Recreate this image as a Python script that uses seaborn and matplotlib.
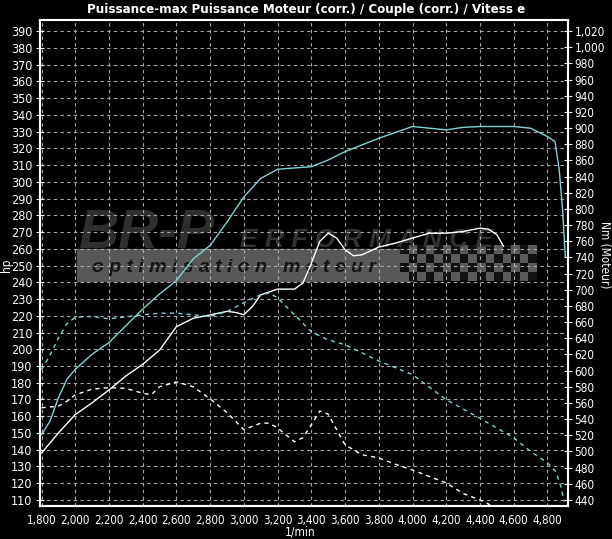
import numpy as np
import matplotlib
matplotlib.use("Agg")
import matplotlib.pyplot as plt
import matplotlib.ticker as mticker
from matplotlib import font_manager
from matplotlib.patches import Rectangle
import seaborn as sns

# tuned power (hp)
pow_tuned_rpm = [1800, 1850, 1900, 1950, 2000, 2100, 2200, 2300, 2400, 2500, 2600, 2700, 2800,
                 2900, 3000, 3100, 3200, 3400, 3500, 3600, 3800, 4000, 4100, 4200, 4300, 4400,
                 4600, 4700, 4800, 4845, 4870, 4890, 4906]
pow_tuned_hp = [149, 157, 171, 182, 188, 197, 204, 214, 224, 233, 241, 254, 262,
                276, 291, 302, 307.5, 309, 313, 318, 326, 333, 332, 331, 332.5, 333,
                333, 332, 327, 324, 307, 283, 255]

# tuned torque (Nm)
trq_tuned_rpm = [1800, 1850, 1900, 1950, 2000, 2100, 2200, 2400, 2500, 2600, 2800, 2900, 3000,
                 3100, 3150, 3200, 3300, 3400, 3500, 3600, 3800, 4000, 4200, 4400, 4600, 4700,
                 4800, 4850, 4880, 4900]
trq_tuned_nm = [601, 619, 640, 658, 666, 667, 664, 669, 671, 671, 667, 673, 684,
                694, 696, 690, 669, 648, 638, 632, 612, 595, 564, 541, 517, 500,
                486, 475, 456, 438]

# stock power (hp)
pow_stock_rpm = [1800, 1900, 2000, 2100, 2200, 2300, 2400, 2500, 2600, 2700, 2800, 2900, 2950,
                 3000, 3050, 3100, 3200, 3300, 3350, 3400, 3450, 3500, 3550, 3600, 3650, 3700,
                 3800, 3900, 4000, 4100, 4200, 4300, 4400, 4450, 4500, 4540]
pow_stock_hp = [138, 150, 161, 168, 175.7, 184, 191, 199.5, 213.5, 218.5, 220.5, 222.6, 222,
                220.6, 225.5, 232.5, 235.9, 235.9, 239.5, 251.4, 264.4, 269.3, 266.4, 259.4, 255.8, 256.4,
                261, 263.4, 266.4, 269.3, 269.3, 270.3, 272.3, 271.7, 268.4, 261.4]

# stock torque (Nm)
trq_stock_rpm = [1800, 1900, 1950, 2000, 2100, 2200, 2300, 2400, 2450, 2500, 2600, 2700, 2800,
                 2900, 3000, 3100, 3150, 3200, 3300, 3350, 3400, 3450, 3500, 3550, 3600, 3700,
                 3800, 3900, 4000, 4200, 4300, 4400, 4460]
trq_stock_nm = [554, 556, 562, 570, 577, 579, 578, 572, 570, 580, 586, 580, 565,
                548, 527, 535, 535, 529, 512, 517, 533, 550, 546, 527, 508, 496,
                492, 484, 477, 461, 448, 440, 434]

hp_ticks = list(range(110, 391, 10))
nm_ticks = list(range(440, 1021, 20))
rpm_ticks = list(range(1800, 4801, 200))

W, H = 612, 539
CYAN = "#7fd3d3"
GRID = "#a8a8a8"


def narrow_font(bold, size):
    # look for a condensed face, else fall back to a plain sans at a smaller size
    for f in font_manager.fontManager.ttflist:
        fn = f.fname.lower()
        narrow = ("narrow" in f.name.lower() or "condensed" in f.name.lower()
                  or "condensed" in fn or "narrow" in fn or f.stretch in ("condensed", "semi-condensed"))
        if not narrow or "italic" in fn or "oblique" in fn:
            continue
        is_bold = f.weight in ("bold", 700) or "bold" in fn
        if is_bold == bold and "light" not in fn and "black" not in fn and "medium" not in fn:
            return font_manager.FontProperties(fname=f.fname, size=size), True
    return font_manager.FontProperties(family=["Liberation Sans", "DejaVu Sans"],
                                       weight="bold" if bold else "normal", size=size * 0.88), False


sns.set_style("dark")
plt.rcParams["font.family"] = ["Liberation Sans", "DejaVu Sans"]
plt.rcParams["text.color"] = "white"

xtick_fp, found = narrow_font(False, 8.3)
ytick_fp, _ = narrow_font(False, 9)
rtick_fp, _ = narrow_font(False, 8.5)
title_fp, _ = narrow_font(True, 9.5)
label_fp, _ = narrow_font(False, 8.5)

fig = plt.figure(figsize=(W / 100, H / 100), dpi=100, facecolor="black")
L, R, T, B = 39.5, 567.5, 20, 506
ax = fig.add_axes([L / W, 1 - B / H, (R - L) / W, (B - T) / H])
ax.set_facecolor("black")


def px(x, y):
    return (x - L) / (R - L), (B - y) / (B - T)


# watermark banner
x0, y0 = px(77, 281)
x1, y1 = px(413, 249)
ax.add_patch(Rectangle((x0, y0), x1 - x0, y1 - y0, transform=ax.transAxes,
                       color="#585858", zorder=0.2))
cx0, cy0 = px(400, 281)
cx1, cy1 = px(537, 245)
checker = np.indices((4, 16)).sum(axis=0) % 2
ax.imshow(checker, extent=[cx0, cx1, cy0, cy1], transform=ax.transAxes,
          cmap=matplotlib.colors.ListedColormap(["#111111", "#5a5a5a"]),
          aspect="auto", zorder=0.2, interpolation="nearest")
tx, ty = px(78, 248)
ax.text(tx, ty, "BR-P", transform=ax.transAxes, fontsize=40, fontstyle="italic",
        fontweight="bold", color="#2f2f2f", zorder=0.3)
tx, ty = px(240, 247)
ax.text(tx, ty, "E R F O R M A N C E", transform=ax.transAxes, fontsize=19, fontstyle="italic",
        fontweight="bold", color="#333333", zorder=0.3)
tx, ty = px(92, 272)
ax.text(tx, ty, "o p t i m i s a t i o n   m o t e u r", transform=ax.transAxes,
        fontsize=14, fontstyle="italic", fontweight="bold", color="#151515", zorder=0.3)

# power curves on left axis
sns.lineplot(x=pow_stock_rpm, y=pow_stock_hp, ax=ax, color="white", linewidth=1.0, zorder=3)
sns.lineplot(x=pow_tuned_rpm, y=pow_tuned_hp, ax=ax, color=CYAN, linewidth=1.0, zorder=3)

ax.set_xlim(1788, 4919)
ax.set_ylim(106.4, 396.6)
ax.set_xticks(rpm_ticks)
ax.xaxis.set_minor_locator(mticker.MultipleLocator(100))
ax.set_yticks(hp_ticks)
ax.xaxis.set_major_formatter(mticker.StrMethodFormatter("{x:,.0f}"))
ax.grid(True, which="major", color=GRID, linestyle=(0, (3, 3)), linewidth=0.8, zorder=1)
ax.set_axisbelow(True)
ax.tick_params(axis="both", which="both", colors="white", labelcolor="white", direction="inout")
ax.tick_params(axis="y", length=6, pad=2)
ax.tick_params(axis="x", which="major", length=6, pad=3)
ax.tick_params(axis="x", which="minor", length=4)
for s in ax.spines.values():
    s.set_color("white")
    s.set_linewidth(1.5)

# torque curves on right axis
ax2 = ax.twinx()
sns.lineplot(x=trq_tuned_rpm, y=trq_tuned_nm, ax=ax2, color=CYAN, linewidth=1.0,
             linestyle=(0, (3, 3)))
sns.lineplot(x=trq_stock_rpm, y=trq_stock_nm, ax=ax2, color="white", linewidth=1.0,
             linestyle=(0, (3, 3)))
ax2.set_ylim(432.5, 1033.7)
ax2.set_yticks(nm_ticks)
ax2.yaxis.set_major_formatter(mticker.StrMethodFormatter("{x:,.0f}"))
ax2.tick_params(axis="y", colors="white", labelcolor="white", direction="inout",
                length=6, pad=2)
ax2.grid(False)
ax2.set_xlim(1788, 4919)
for s in ax2.spines.values():
    s.set_color("white")
    s.set_linewidth(1.5)

for lbl in ax.get_xticklabels():
    lbl.set_fontproperties(xtick_fp)
for lbl in ax.get_yticklabels():
    lbl.set_fontproperties(ytick_fp)
for lbl in ax2.get_yticklabels():
    lbl.set_fontproperties(rtick_fp)

fig.text(0.5, 1 - 10 / H, "Puissance-max Puissance Moteur (corr.) / Couple (corr.) / Vitess e",
         ha="center", va="center", color="white", fontproperties=title_fp)
fig.text(6 / W, 1 - 265 / H, "hp", rotation=90, ha="center", va="center", fontproperties=label_fp)
fig.text(605 / W, 1 - 255 / H, "Nm (Moteur)", rotation=270, ha="center", va="center",
         fontproperties=label_fp)
fig.text(300 / W, 1 - 532 / H, "1/min", ha="center", va="center", fontproperties=label_fp)

fig.savefig("out.png", dpi=100, facecolor="black")
